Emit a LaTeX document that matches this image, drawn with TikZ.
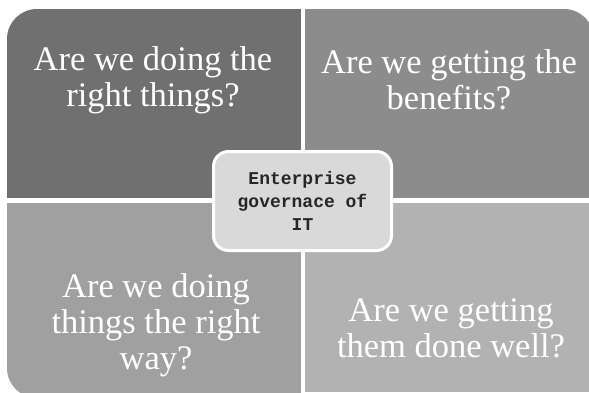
\documentclass[tikz,border=0pt]{standalone}
\usepackage{fontspec}
\setmainfont{Liberation Serif}
\newfontfamily\hubfont{Liberation Mono}

\definecolor{quadtl}{RGB}{112,112,112}
\definecolor{quadtr}{RGB}{140,140,140}
\definecolor{quadbl}{RGB}{160,160,160}
\definecolor{quadbr}{RGB}{178,178,178}
\definecolor{hubgray}{RGB}{217,217,217}

\tikzset{
  question/.style={text=white, align=center, font=\fontsize{34.5}{36}\selectfont},
  hubbox/.style={draw=white, line width=3pt, fill=hubgray, rounded corners=15pt,
    minimum width=178pt, minimum height=99pt, align=center, text=black!85,
    font=\hubfont\bfseries\fontsize{18}{23}\selectfont}
}

\begin{document}
\begin{tikzpicture}[x=1pt,y=-1pt]
	\fill[white] (0,0) rectangle (589,392);
	\useasboundingbox (0,0) rectangle (589,392);
	% four quadrants, outer corners rounded (bottom right is cut off)
	\begin{scope}
		\clip[rounded corners=30pt] (7,9) rectangle (594,398);
		\fill[quadtl] (7,9) rectangle (301,198);
		\fill[quadtr] (305,9) rectangle (594,198);
		\fill[quadbl] (7,203) rectangle (301,398);
	\end{scope}
	\fill[quadbr] (305,203) rectangle (589,392);
	\node (tl) [question] at (153,80) {Are we doing the\\right things?};
	\node (tr) [question] at (449,80) {Are we getting the\\benefits?};
	\node (bl) [question] at (156,325) {Are we doing\\things the right\\way?};
	\node (br) [question] at (451,328) {Are we getting\\them done well?};
	% centre box
	\node (hub) [hubbox] at (302.5,201) {Enterprise\\governace of\\IT};
\end{tikzpicture}
\end{document}
